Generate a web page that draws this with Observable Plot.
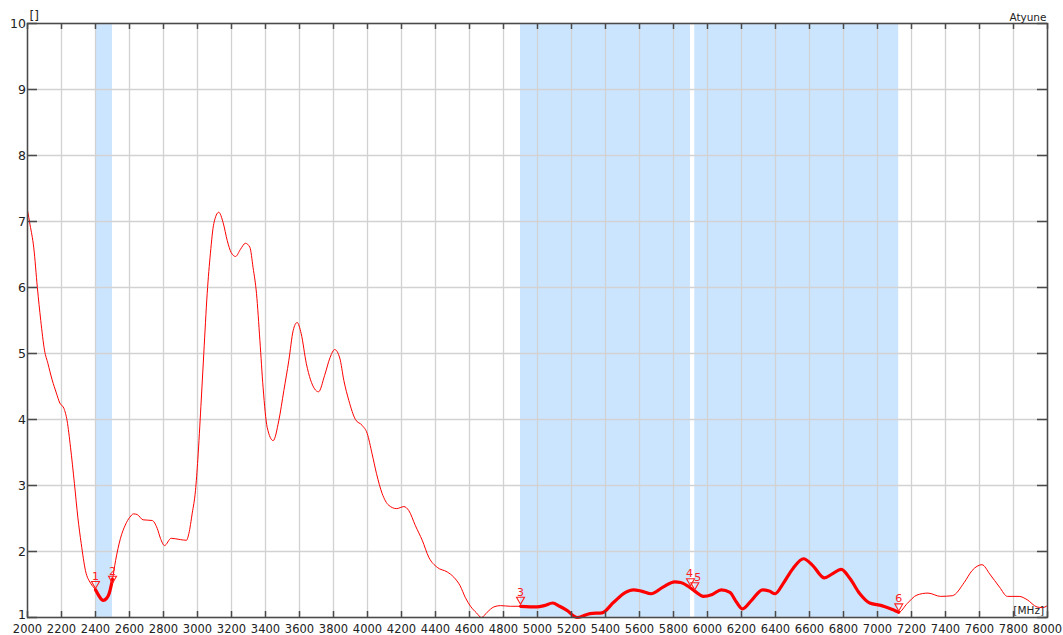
<!DOCTYPE html>
<html><head><meta charset="utf-8">
<script src="https://cdn.jsdelivr.net/npm/d3@7"></script>
<script src="https://cdn.jsdelivr.net/npm/@observablehq/plot@0.6"></script>
<style>html,body{margin:0;padding:0;background:#fff;} #chart{width:1063px;height:635px;}</style>
</head><body><div id="chart"></div>
<script>
// ---- data ----
const freqMHz = [2000,2015,2037,2058,2078,2100,2120,2145,2170,2190,2214,2233,2253,2276,2296,2316,2341,2371,2400,2420,2445,2465,2480,2500,2518,2547,2575,2602,2624,2645,2680,2733,2763,2782,2806,2845,2900,2935,2949,2969,2988,3002,3020,3037,3057,3076,3096,3125,3151,3175,3198,3224,3253,3282,3308,3327,3347,3367,3386,3410,3445,3478,3508,3537,3563,3586,3610,3640,3665,3712,3748,3780,3807,3837,3861,3890,3929,3969,3998,4027,4053,4086,4125,4171,4214,4243,4282,4322,4361,4410,4469,4508,4545,4576,4606,4641,4670,4704,4743,4782,4840,4900,4997,5040,5089,5130,5171,5235,5309,5379,5448,5518,5564,5611,5668,5738,5807,5842,5888,5925,5976,6028,6081,6132,6171,6206,6259,6324,6363,6398,6444,6502,6565,6618,6688,6734,6787,6838,6896,6954,7024,7069,7125,7174,7232,7297,7371,7440,7510,7556,7615,7660,7718,7764,7833,7880,7938,7970,8000];
const vswr = [7.17,6.95,6.6,6.0,5.5,5.05,4.85,4.6,4.4,4.25,4.17,3.98,3.58,3.03,2.52,2.12,1.71,1.52,1.42,1.33,1.26,1.29,1.36,1.58,1.86,2.2,2.40,2.52,2.57,2.56,2.48,2.47,2.35,2.2,2.09,2.2,2.18,2.17,2.27,2.58,2.92,3.4,4.2,5.0,5.91,6.52,6.97,7.14,6.98,6.71,6.53,6.47,6.58,6.67,6.61,6.3,5.91,5.2,4.48,3.88,3.68,3.98,4.44,4.89,5.35,5.47,5.3,4.85,4.6,4.42,4.67,4.94,5.06,4.93,4.59,4.29,4.0,3.91,3.79,3.48,3.18,2.88,2.7,2.65,2.68,2.62,2.39,2.17,1.91,1.76,1.69,1.61,1.48,1.3,1.17,1.07,1.0,1.08,1.16,1.18,1.17,1.17,1.16,1.18,1.22,1.17,1.11,1.0,1.06,1.07,1.23,1.38,1.42,1.40,1.36,1.46,1.54,1.53,1.47,1.40,1.32,1.35,1.42,1.38,1.23,1.13,1.26,1.42,1.40,1.36,1.51,1.74,1.89,1.79,1.60,1.66,1.73,1.59,1.36,1.22,1.18,1.14,1.08,1.21,1.34,1.37,1.32,1.33,1.53,1.71,1.80,1.66,1.46,1.32,1.32,1.27,1.16,1.15,1.18];
const bandStart = [2400, 4900, 5925];
const bandEnd   = [2500, 5900, 7125];
const thickStart = [2400, 4900];
const thickEnd   = [2500, 7125];
const markerLabels = ["1","2","3","4","5","6"];
const markerFreq   = [2400, 2500, 4900, 5900, 5925, 7125];
const markerValue  = [1.44, 1.52, 1.20, 1.48, 1.42, 1.10];
const xTicks = [2000,2200,2400,2600,2800,3000,3200,3400,3600,3800,4000,4200,4400,4600,4800,5000,5200,5400,5600,5800,6000,6200,6400,6600,6800,7000,7200,7400,7600,7800,8000];
const yTicks = [1,2,3,4,5,6,7,8,9,10];
const yUnitLabel = "[]";
const xUnitLabel = "[MHz]";
const traceName = "Atyune";

// ---- build tables ----
const curve = freqMHz.map((f, i) => ({f, v: vswr[i]}));
const bands = bandStart.map((s, i) => ({s, e: bandEnd[i]}));
const thick = [];
thickStart.forEach((s, k) => curve.forEach(d => { if (d.f >= s && d.f <= thickEnd[k]) thick.push({...d, seg: k}); }));
const markers = markerLabels.map((l, i) => ({l, f: markerFreq[i], v: markerValue[i]}));
const mk4 = markers.filter(d => d.l === "4");
const mk5 = markers.filter(d => d.l === "5");
const mkOther = markers.filter(d => d.l !== "4" && d.l !== "5");
const yTicksLow = yTicks.slice(0, 1);
const yTicksRest = yTicks.slice(1);

const W = 1063, H = 635, mL = 27, mR = 16, mT = 23, mB = 18;
const innerW = W - mL - mR, innerH = H - mT - mB;
const axisColor = "#4a4a4a";
const downTri = { draw(ctx) { ctx.moveTo(0, 0); ctx.lineTo(-4, -7); ctx.lineTo(4, -7); ctx.closePath(); } };
const mkText = {x: "f", y: "v", text: "l", dy: -8.5, lineAnchor: "bottom", fill: "#ff2020", fontSize: 11};
const yAxisOpts = {anchor: "left", tickSize: 0, tickPadding: 1.5, tickFormat: d => String(d), label: null, fill: "#222", fontSize: 12.5};

const chart = Plot.plot({
  width: W, height: H,
  marginLeft: mL, marginRight: mR, marginTop: mT, marginBottom: mB,
  style: {fontFamily: "DejaVu Sans, Verdana, sans-serif", fontSize: "11.5px", color: "#222", background: "#fff"},
  x: {domain: [2000, 8000]},
  y: {domain: [1, 10]},
  marks: [
    Plot.rect(bands, {x1: "s", x2: "e", fill: "#cce5ff"}),
    Plot.gridX(xTicks, {stroke: "#d2d2d2", strokeOpacity: 1, strokeWidth: 1.3}),
    Plot.gridY(yTicks, {stroke: "#d2d2d2", strokeOpacity: 1, strokeWidth: 1.3}),
    Plot.line(curve, {x: "f", y: "v", stroke: "#ff0000", strokeWidth: 1, curve: "monotone-x"}),
    Plot.line(thick, {x: "f", y: "v", z: "seg", stroke: "#ff0000", strokeWidth: 3.2, curve: "monotone-x", strokeLinejoin: "round"}),
    Plot.dot(markers, {x: "f", y: "v", symbol: downTri, stroke: "#ff2020", fill: "none", strokeWidth: 1.1}),
    Plot.text(mkOther, mkText),
    Plot.text(mk4, {...mkText, textAnchor: "end", dx: 2.5}),
    Plot.text(mk5, {...mkText, textAnchor: "start", dx: -0.5}),
    Plot.frame({stroke: axisColor, strokeWidth: 1.5}),
    Plot.ruleX(xTicks, {x: d => d, insetTop: innerH - 6, stroke: axisColor, strokeWidth: 1.5}),
    Plot.ruleX(xTicks, {x: d => d, insetBottom: innerH - 6, stroke: axisColor, strokeWidth: 1.5}),
    Plot.ruleY(yTicks, {y: d => d, insetRight: innerW - 10, stroke: axisColor, strokeWidth: 1.5}),
    Plot.ruleY(yTicks, {y: d => d, insetLeft: innerW - 10, stroke: axisColor, strokeWidth: 1.5}),
    Plot.axisX(xTicks, {anchor: "bottom", tickSize: 0, tickPadding: 7, tickFormat: d => String(d), label: null, fill: "#222"}),
    Plot.axisY(yTicksRest, yAxisOpts),
    Plot.axisY(yTicksLow, {...yAxisOpts, dy: -2.5}),
    Plot.text([yUnitLabel], {frameAnchor: "top-left", text: d => d, dx: 2, dy: -4, lineAnchor: "bottom", textAnchor: "start", fontSize: 12, fill: "#222"}),
    Plot.text([traceName], {frameAnchor: "top-right", text: d => d, dx: -1, dy: -2.5, lineAnchor: "bottom", textAnchor: "end", fontSize: 10.5, fill: "#222"}),
    Plot.text([xUnitLabel], {frameAnchor: "bottom-right", text: d => d, dx: -3.5, dy: -3.5, lineAnchor: "bottom", textAnchor: "end", fontSize: 10.5, fill: "#222"})
  ]
});
document.getElementById("chart").appendChild(chart);
</script>
</body></html>
